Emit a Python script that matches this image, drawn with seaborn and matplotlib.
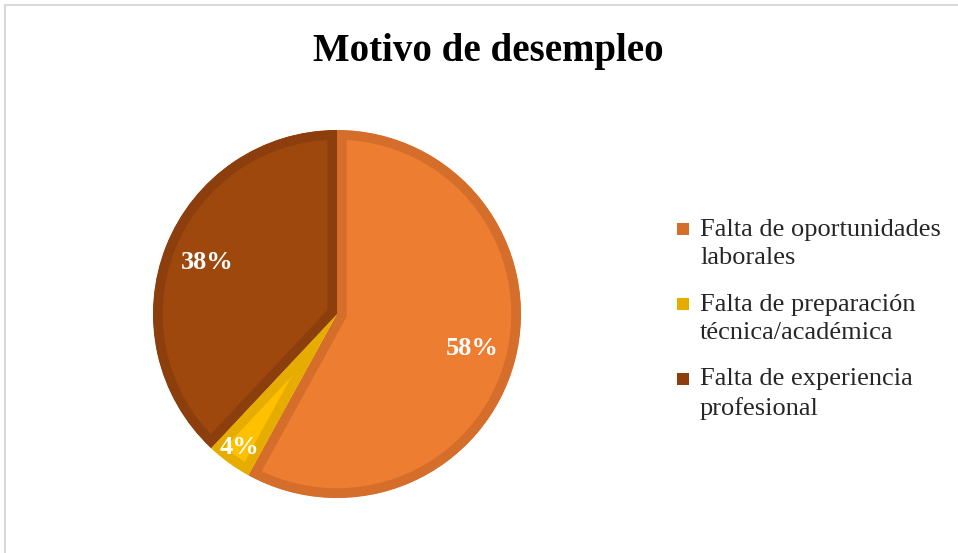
import numpy as np
import matplotlib.pyplot as plt
import seaborn as sns
from matplotlib.patches import Rectangle

# data
categorias = ["Falta de oportunidades\nlaborales",
              "Falta de preparación\ntécnica/académica",
              "Falta de experiencia\nprofesional"]
valores = [58, 4, 38]
colores = ["#ED7D31", "#FFC000", "#9E480E"]
bordes = ["#D56D2B", "#E6AC00", "#8C3F0C"]

sns.set_theme(style="white")
plt.rcParams['font.family'] = ['Liberation Serif', 'DejaVu Serif']

W, H = 958, 553
fig = plt.figure(figsize=(W / 100, H / 100), dpi=100)
fig.patch.set_facecolor("white")

# light frame at top/left like the source screenshot
fig.patches.append(Rectangle((5 / W, -0.1), 1.2, 1.1 - 5 / H,
                             transform=fig.transFigure, fill=False,
                             edgecolor="#d9d9d9", linewidth=1.5))

cx, cy, r = 337, 314, 184
ax = fig.add_axes([(cx - r) / W, (H - cy - r) / H, 2 * r / W, 2 * r / H])

wedges, texts, autotexts = ax.pie(
    valores, colors=colores, startangle=90, counterclock=False,
    autopct='%1.0f%%', pctdistance=0.76, radius=1,
    wedgeprops=dict(linewidth=14, joinstyle='miter'),
    textprops=dict(color="white", fontsize=19, fontweight="bold"))

# inset border: clip each wedge's thick edge to the wedge itself
for w, b in zip(wedges, bordes):
    w.set_edgecolor(b)
    w.set_clip_on(True)
    w.set_clip_path(w)

# small slice label sits further out
w = wedges[1]
ang = np.deg2rad((w.theta1 + w.theta2) / 2)
autotexts[1].set_position((0.9 * np.cos(ang), 0.9 * np.sin(ang)))

ax.set_xlim(-1, 1)
ax.set_ylim(-1, 1)
ax.set_aspect('equal')
ax.axis('off')

fig.text(488 / W, 1 - 51 / H, "Motivo de desempleo", ha="center", va="center",
         fontsize=28, fontweight="bold", color="black")

# legend, square aligned with first line
y0, paso = 244, 75
for i, (lab, b) in enumerate(zip(categorias, bordes)):
    yc = y0 + i * paso
    fig.text(700 / W, 1 - yc / H, lab, ha="left", va="center",
             fontsize=19, color="#262626", linespacing=1.4)
    fig.patches.append(Rectangle((677 / W, 1 - (yc - 15 + 6) / H), 12 / W, 12 / H,
                                 transform=fig.transFigure, facecolor=b,
                                 edgecolor="none"))

fig.savefig("out.png", dpi=100, facecolor="white")
